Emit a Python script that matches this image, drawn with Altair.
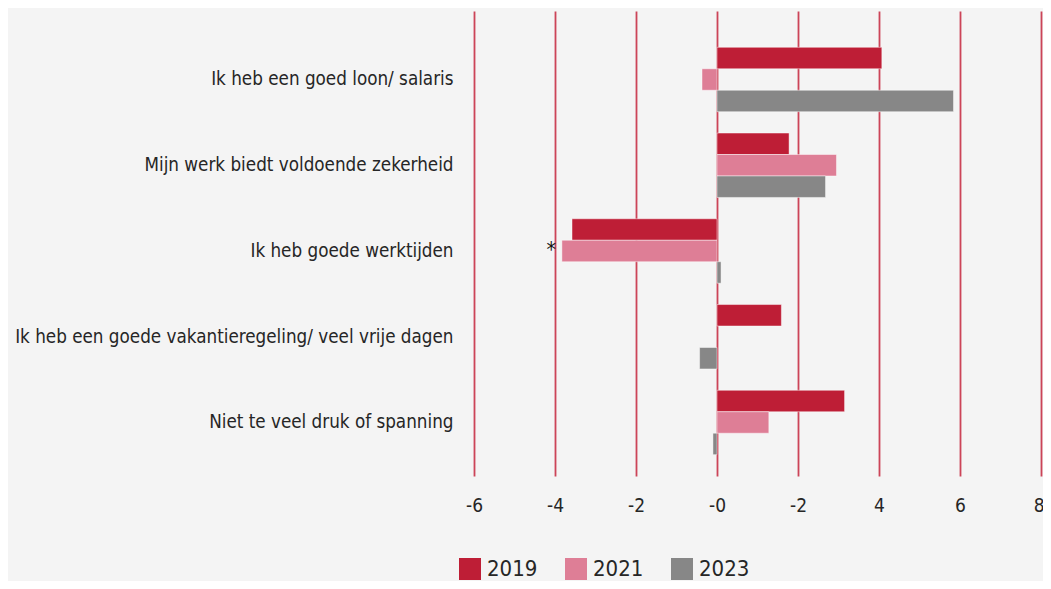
import json
import altair as alt
import pandas as pd

categories = [
    "Ik heb een goed loon/ salaris",
    "Mijn werk biedt voldoende zekerheid",
    "Ik heb goede werktijden",
    "Ik heb een goede vakantieregeling/ veel vrije dagen",
    "Niet te veel druk of spanning",
]
years = ["2019", "2021", "2023"]
values_2019 = [4.07, 1.78, -3.58, 1.59, 3.15]
values_2021 = [-0.37, 2.95, -3.83, None, 1.28]
values_2023 = [5.84, 2.68, 0.10, -0.43, -0.10]
colors = ["#be1e36", "#de7e96", "#878787"]

tick_values = [-6, -4, -2, 0, 2, 4, 6, 8]
tick_labels = ["-6", "-4", "-2", "-0", "-2", "4", "6", "8"]

# significance marker
marker_category = ["Ik heb goede werktijden"]
marker_year = ["2021"]
marker_value = [-3.83]
marker_text = ["*"]

FONT = "DejaVu Sans Condensed, sans-serif"
TEXT = "#262626"

rows = []
for yr, vals in zip(years, [values_2019, values_2021, values_2023]):
    for c, v in zip(categories, vals):
        if v is not None:
            rows.append({"category": c, "year": yr, "value": v})
df = pd.DataFrame(rows)

mdf = pd.DataFrame({"category": marker_category, "year": marker_year,
                    "value": marker_value, "label": marker_text})

label_expr = f"{json.dumps(tick_labels)}[indexof({json.dumps(tick_values)}, datum.value)]"

x_enc = alt.X(
    "value:Q",
    scale=alt.Scale(domain=[-6, 8], nice=False, zero=False),
    axis=alt.Axis(
        values=tick_values, labelExpr=label_expr, title=None,
        grid=True, gridColor="#cc4458", gridWidth=1.8, gridOpacity=1,
        ticks=False, domain=False, labelFont=FONT, labelFontSize=19,
        labelColor=TEXT, labelPadding=20, labelFlush=False,
        labelAlign={"expr": "datum.value == 8 ? 'right' : 'center'"},
        labelOffset={"expr": "datum.value == 8 ? 3 : 0"},
    ),
)
y_enc = alt.Y(
    "category:N", sort=categories,
    scale=alt.Scale(paddingInner=0.249, paddingOuter=0.336, align=0.63),
    axis=alt.Axis(
        title=None, ticks=False, domain=False, grid=False,
        labelFont=FONT, labelFontSize=18.7, labelColor=TEXT,
        labelPadding=21, labelLimit=600,
    ),
)
yoff = alt.YOffset("year:N", sort=years, scale=alt.Scale(paddingInner=0, paddingOuter=0))

bars = alt.Chart(df).mark_bar(stroke="#ffffff", strokeOpacity=0.45, strokeWidth=1).encode(
    x=x_enc,
    y=y_enc,
    yOffset=yoff,
    color=alt.Color(
        "year:N", sort=years,
        scale=alt.Scale(domain=years, range=colors),
        legend=alt.Legend(
            title=None, orient="none", direction="horizontal",
            legendX=-15, legendY=547, symbolType="square", symbolSize=484,
            symbolStrokeWidth=0, symbolOpacity=1, labelFont=FONT, labelFontSize=22,
            labelColor=TEXT, labelOffset=6, columnPadding=27,
        ),
    ),
)

marker = alt.Chart(mdf).mark_text(
    align="right", baseline="middle", dx=-6, fontSize=21, font=FONT, color="#111111"
).encode(
    x=alt.X("value:Q"),
    y=alt.Y("category:N", sort=categories),
    yOffset=alt.YOffset("year:N", sort=years),
    text="label:N",
)

chart = alt.layer(bars, marker).properties(
    width=567, height=465,
    background="#f4f4f4",
    autosize=alt.AutoSizeParams(type="none"),
    padding={"left": 466, "top": 3, "right": 2, "bottom": 105},
).configure_view(strokeWidth=0)

chart.save("out.html", embed_options={"renderer": "svg", "actions": False})
